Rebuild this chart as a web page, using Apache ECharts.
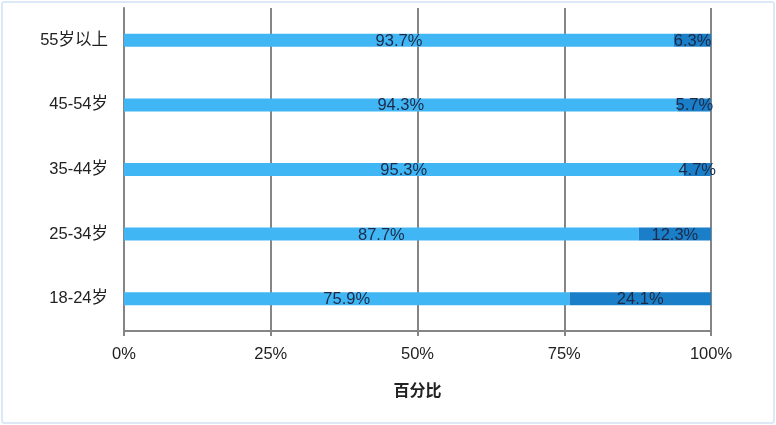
<!DOCTYPE html>
<html lang="zh">
<head>
    <meta charset="UTF-8">
    <title>年龄段百分比</title>
    <script src="https://cdn.jsdelivr.net/npm/echarts@6/dist/echarts.min.js"></script>
    <style>
        html, body { margin: 0; padding: 0; background: #fff; }
        #frame {
            position: absolute; left: 1px; top: 1px;
            width: 770px; height: 419px;
            border: 2px solid #dce8f6; border-radius: 3px;
        }
        #chart-container { position: absolute; left: 0; top: 0; width: 776px; height: 425px; }
    </style>
</head>
<body>
    <div id="frame"></div>
    <div id="chart-container"></div>
    <script>
        // 年龄段（从下往上）
        const ageGroups = ['18-24岁', '25-34岁', '35-44岁', '45-54岁', '55岁以上'];
        const partA = [75.9, 87.7, 95.3, 94.3, 93.7];
        const partB = [24.1, 12.3, 4.7, 5.7, 6.3];
        const xTicks = [0, 25, 50, 75, 100];

        const font = "'Liberation Sans', 'Noto Sans CJK SC', sans-serif";
        const myChart = echarts.init(document.getElementById('chart-container'), null, { renderer: 'canvas' });

        const labelStyle = {
            show: true,
            position: 'inside',
            offset: [0, 1],
            formatter: p => p.value.toFixed(1) + '%',
            color: '#1c2a48',
            fontSize: 16.5,
            fontFamily: font
        };

        const option = {
            animation: false,
            grid: { left: 124, right: 65, top: 8, bottom: 94 },
            xAxis: {
                type: 'value',
                min: xTicks[0],
                max: xTicks[xTicks.length - 1],
                interval: 25,
                name: '百分比',
                nameLocation: 'middle',
                nameGap: 53,
                nameTextStyle: { fontSize: 16, fontWeight: 'bold', color: '#222', fontFamily: font },
                axisLine: { show: true, lineStyle: { color: '#858585', width: 2 } },
                axisTick: { show: true, length: 5, lineStyle: { color: '#858585', width: 2 } },
                axisLabel: { formatter: '{value}%', fontSize: 16.5, color: '#222', margin: 15, fontFamily: font },
                splitLine: { show: true, lineStyle: { color: '#858585', width: 2 } }
            },
            yAxis: {
                type: 'category',
                data: ageGroups,
                axisLine: { show: true, lineStyle: { color: '#858585', width: 2 } },
                axisTick: { show: false },
                axisLabel: { fontSize: 16.5, color: '#222', margin: 16, fontFamily: font }
            },
            series: [
                {
                    name: 'A', type: 'bar', stack: 'total', data: partA,
                    barWidth: 13,
                    itemStyle: { color: '#40b6f4' },
                    label: labelStyle
                },
                {
                    name: 'B', type: 'bar', stack: 'total', data: partB,
                    barWidth: 13,
                    itemStyle: { color: '#1a7fc8' },
                    label: labelStyle
                }
            ]
        };

        myChart.setOption(option);
        window.addEventListener('resize', myChart.resize);
    </script>
</body>
</html>
